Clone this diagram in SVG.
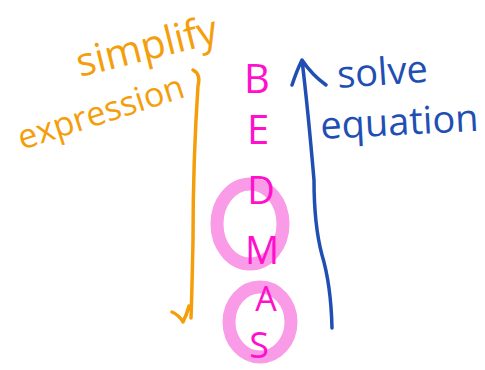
<svg xmlns="http://www.w3.org/2000/svg" width="485" height="370" viewBox="0 0 485 370">
<style>
.t{font-family:"Open Sans","DejaVu Sans",sans-serif;}
.or{fill:#f59e0b;}
.bl{fill:#1f4fb3;}
.mg{fill:#ff10cc;text-anchor:middle;}
.ring{fill:none;stroke:#f99be6;stroke-width:13;}
.pen{fill:none;stroke-linecap:round;stroke-linejoin:round;stroke-width:3.5;}
</style>
<rect width="485" height="370" fill="#fff"/>
<g id="circles">
<ellipse class="ring" cx="250" cy="224" rx="33" ry="40"/>
<ellipse class="ring" cx="260" cy="322" rx="31" ry="35"/>
</g>
<g id="connectors">
<path class="pen" stroke="#f59e0b" d="M193,70 Q201,74 198,86 Q193,160 193,240 Q192,290 191,318 M172,312 Q179,315 183,322 Q187,314 189,306"/>
<path class="pen" stroke="#1f4fb3" d="M332,328 Q331,285 322,255 Q314,225 314,180 Q308,110 302,60 M292,85 Q297,70 302,60 Q312,75 326,85"/>
</g>
<g id="simplify">
<text class="t or" font-size="40" transform="translate(80,77) rotate(-14)">simplify</text>
<text class="t or" font-size="34" transform="translate(22,150) rotate(-18)">expression</text>
</g>
<g id="bedmas">
<text class="t mg" font-size="40" x="257" y="93">B</text>
<text class="t mg" font-size="40" x="258" y="144">E</text>
<text class="t mg" font-size="38" x="261" y="204">D</text>
<text class="t mg" font-size="38" x="262" y="264">M</text>
<text class="t mg" font-size="34" x="266" y="311">A</text>
<text class="t mg" font-size="36" x="259" y="358">S</text>
</g>
<g id="solve">
<text class="t bl" font-size="38" transform="translate(338,88) rotate(-4)">solve</text>
<text class="t bl" font-size="38" transform="translate(321,139) rotate(-3)">equation</text>
</g>
</svg>
